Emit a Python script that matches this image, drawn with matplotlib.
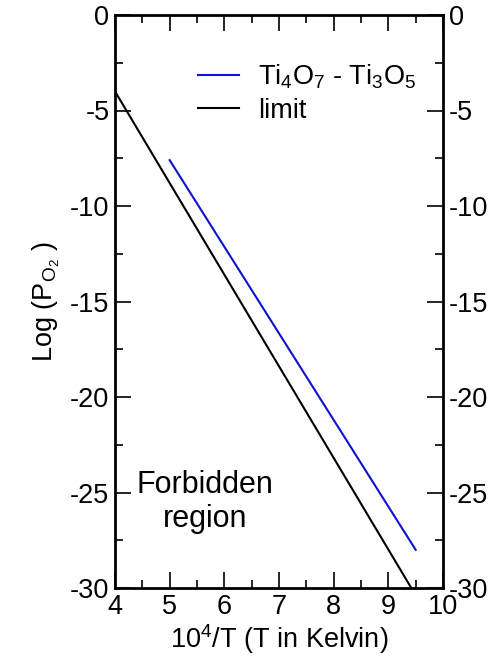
import matplotlib
matplotlib.use("Agg")
import matplotlib.pyplot as plt
import matplotlib.transforms as mtransforms
from matplotlib.ticker import MultipleLocator

plt.rcParams['font.family'] = ['Liberation Sans', 'DejaVu Sans']
plt.rcParams['mathtext.fontset'] = 'custom'
plt.rcParams['mathtext.rm'] = 'Liberation Sans'
plt.rcParams['mathtext.it'] = 'Liberation Sans'
plt.rcParams['axes.unicode_minus'] = False

# data
ti_x = [5.0, 9.5]
ti_y = [-7.6, -28.0]
limit_x = [4.0, 9.42]
limit_y = [-4.0, -30.0]

fig = plt.figure(figsize=(4.91, 6.64), dpi=100)
ax = fig.add_axes([115/491, 1-588/664, (443-115)/491, (588-15)/664])

ax.plot(ti_x, ti_y, color='#1010d0', lw=1.5, label=r'Ti$_4$O$_7$ - Ti$_3$O$_5$')
ax.plot(limit_x, limit_y, color='black', lw=1.5, label='limit')

ax.set_xlim(4, 10)
ax.set_ylim(-30, 0)
ax.xaxis.set_major_locator(MultipleLocator(1))
ax.xaxis.set_minor_locator(MultipleLocator(0.5))
ax.yaxis.set_major_locator(MultipleLocator(5))
ax.yaxis.set_minor_locator(MultipleLocator(2.5))
ax.tick_params(which='both', direction='in', top=True, right=True, labelright=True,
               labelsize=19.5, width=1.2)
ax.tick_params(which='major', length=11.5, pad=4)
ax.tick_params(which='minor', length=6)
for s in ax.spines.values():
    s.set_linewidth(2.0)

ax.set_xlabel(r'10$^4$/T (T in Kelvin)', fontsize=19.5, labelpad=2)
ax.set_ylabel(r'Log (P$_{\mathrm{O}_2}$ )', fontsize=19.5, labelpad=6)

ax.text(5.65, -25.5, 'Forbidden\nregion', fontsize=22, ha='center', va='center', linespacing=1.15)

ax.legend(loc='upper left', bbox_to_anchor=(0.18, 0.96), frameon=False, fontsize=19.5,
          handlelength=1.5, handletextpad=0.7, labelspacing=0.25)

# nudge the lowest right-hand label up, as in the reference
fig.canvas.draw()
ticks = ax.yaxis.get_major_ticks()
low = min(ticks, key=lambda t: t.get_loc())
low.label2.set_transform(low.label2.get_transform() +
                         mtransforms.ScaledTranslation(0, 6/72, fig.dpi_scale_trans))
low.label2.set_verticalalignment('center_baseline')

fig.savefig('out.png', dpi=100)
